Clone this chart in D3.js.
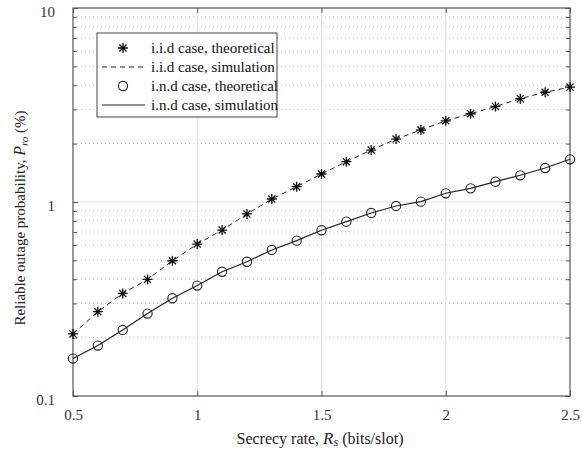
<!DOCTYPE html>
<html>
<head>
<meta charset="utf-8">
<script src="https://cdn.jsdelivr.net/npm/d3@7"></script>
<style>
  html, body { margin: 0; padding: 0; background: #fff; }
  svg text { font-family: "Liberation Serif", "Times New Roman", "DejaVu Serif", serif; }
</style>
</head>
<body>
<svg id="chart" width="582" height="452"></svg>
<script>
// Secrecy rate values (bits/slot)
const rates = [0.5, 0.6, 0.7, 0.8, 0.9, 1.0, 1.1, 1.2, 1.3, 1.4, 1.5,
               1.6, 1.7, 1.8, 1.9, 2.0, 2.1, 2.2, 2.3, 2.4, 2.5];

// Reliable outage probability (%) — i.i.d case
const iidTheory = [0.209, 0.272, 0.338, 0.399, 0.498, 0.607, 0.717, 0.868, 1.036, 1.199, 1.394,
                   1.614, 1.853, 2.11, 2.35, 2.62, 2.85, 3.11, 3.41, 3.68, 3.91];
const iidSim    = [0.209, 0.272, 0.338, 0.399, 0.498, 0.607, 0.717, 0.868, 1.036, 1.199, 1.394,
                   1.614, 1.853, 2.11, 2.35, 2.62, 2.85, 3.11, 3.41, 3.68, 3.91];

// Reliable outage probability (%) — i.n.d case
const indTheory = [0.156, 0.182, 0.219, 0.266, 0.319, 0.371, 0.437, 0.492, 0.566, 0.632, 0.715,
                   0.792, 0.878, 0.954, 1.004, 1.109, 1.176, 1.273, 1.373, 1.497, 1.66];
const indSim    = [0.156, 0.182, 0.219, 0.266, 0.319, 0.371, 0.437, 0.492, 0.566, 0.632, 0.715,
                   0.792, 0.878, 0.954, 1.004, 1.109, 1.176, 1.273, 1.373, 1.497, 1.66];

const xTicks = [0.5, 1, 1.5, 2, 2.5];
const xTickLabels = ["0.5", "1", "1.5", "2", "2.5"];
const yTicks = [0.1, 1, 10];
const yTickLabels = ["0.1", "1", "10"];
const legendLabels = ["i.i.d case, theoretical", "i.i.d case, simulation",
                      "i.n.d case, theoretical", "i.n.d case, simulation"];

const SERIF = "'Liberation Serif', 'Times New Roman', 'DejaVu Serif', serif";
const svg = d3.select("#chart");
const L = 73, R = 570, T = 8, B = 396;

const x = d3.scaleLinear().domain([0.5, 2.5]).range([L, R]);
const y = d3.scaleLog().domain([0.1, 10]).range([B, T]);

// minor decade values for the log axis
const minor = [];
for (const d of [0.1, 1]) for (let k = 2; k <= 9; k++) minor.push(d * k);

const grid = svg.append("g");
// dotted minor horizontal grid
grid.selectAll("line.minor").data(minor).enter().append("line")
  .attr("x1", L).attr("x2", R)
  .attr("y1", d => y(d)).attr("y2", d => y(d))
  .attr("stroke", "#bdbdbd").attr("stroke-width", 1)
  .attr("stroke-dasharray", "1,3");
// solid major grid
grid.selectAll("line.hmaj").data([1]).enter().append("line")
  .attr("x1", L).attr("x2", R)
  .attr("y1", d => y(d)).attr("y2", d => y(d))
  .attr("stroke", "#e0e0e0").attr("stroke-width", 1);
grid.selectAll("line.vmaj").data(xTicks.slice(1, -1)).enter().append("line")
  .attr("x1", d => x(d)).attr("x2", d => x(d))
  .attr("y1", T).attr("y2", B)
  .attr("stroke", "#e0e0e0").attr("stroke-width", 1);

// axes with inward ticks on all four sides
const axisColor = "#555";
const xFmt = d => xTickLabels[xTicks.indexOf(d)];
const isMajor = d => yTicks.some(t => Math.abs(t - d) < 1e-9);
const yFmt = d => { const i = yTicks.findIndex(t => Math.abs(t - d) < 1e-9); return i >= 0 ? yTickLabels[i] : ""; };
const yAllTicks = yTicks.concat(minor).sort((a, b) => a - b);

const xb = svg.append("g").attr("transform", `translate(0,${B})`)
  .call(d3.axisBottom(x).tickValues(xTicks).tickFormat(xFmt).tickSizeInner(-5).tickSizeOuter(0).tickPadding(13));
xb.attr("font-family", SERIF).attr("font-size", 15);
xb.select(".domain").remove();
xb.selectAll(".tick line").attr("stroke", axisColor);
xb.selectAll(".tick text").attr("fill", "#333");

const xt = svg.append("g").attr("transform", `translate(0,${T})`)
  .call(d3.axisTop(x).tickValues(xTicks).tickFormat("").tickSizeInner(-5).tickSizeOuter(0));
xt.select(".domain").remove();
xt.selectAll(".tick line").attr("stroke", axisColor);

const yl = svg.append("g").attr("transform", `translate(${L},0)`)
  .call(d3.axisLeft(y).tickValues(yAllTicks).tickFormat(yFmt).tickSizeOuter(0).tickPadding(12));
yl.attr("font-family", SERIF).attr("font-size", 15);
yl.select(".domain").remove();
yl.selectAll(".tick line").attr("x2", d => isMajor(d) ? 5 : 4).attr("stroke", axisColor);
yl.selectAll(".tick text").attr("fill", "#333").attr("dy", "0.55em");

const yr = svg.append("g").attr("transform", `translate(${R},0)`)
  .call(d3.axisRight(y).tickValues(yAllTicks).tickFormat("").tickSizeOuter(0));
yr.select(".domain").remove();
yr.selectAll(".tick line").attr("x2", d => isMajor(d) ? -5 : -4).attr("stroke", axisColor);

// plot frame
svg.append("rect").attr("x", L).attr("y", T).attr("width", R - L).attr("height", B - T)
  .attr("fill", "none").attr("stroke", axisColor).attr("stroke-width", 1.2);

// simulation curves
const line = d3.line().x((d, i) => x(rates[i])).y(d => y(d));
svg.append("path").datum(iidSim).attr("d", line)
  .attr("fill", "none").attr("stroke", "#222").attr("stroke-width", 1)
  .attr("stroke-dasharray", "5,4");
svg.append("path").datum(indSim).attr("d", line)
  .attr("fill", "none").attr("stroke", "#222").attr("stroke-width", 1.2);

// asterisk marker path (8 arms)
function starPath(cx, cy, r) {
  const a = r * Math.SQRT1_2;
  return `M${cx - r},${cy}L${cx + r},${cy}M${cx},${cy - r}L${cx},${cy + r}` +
         `M${cx - a},${cy - a}L${cx + a},${cy + a}M${cx - a},${cy + a}L${cx + a},${cy - a}`;
}

svg.append("g").selectAll("path").data(iidTheory).enter().append("path")
  .attr("d", (d, i) => starPath(x(rates[i]), y(d), 5))
  .attr("stroke", "#111").attr("stroke-width", 1.3).attr("fill", "none");

svg.append("g").selectAll("circle").data(indTheory).enter().append("circle")
  .attr("cx", (d, i) => x(rates[i])).attr("cy", d => y(d)).attr("r", 4.6)
  .attr("fill", "none").attr("stroke", "#222").attr("stroke-width", 1.1);

// legend
const lg = svg.append("g");
lg.append("rect").attr("x", 97).attr("y", 33).attr("width", 180).attr("height", 84)
  .attr("fill", "#fff").attr("stroke", "#444").attr("stroke-width", 1);
const rowY = [48, 67, 86, 105];
lg.append("path").attr("d", starPath(123, rowY[0], 5)).attr("stroke", "#111").attr("stroke-width", 1.3);
lg.append("line").attr("x1", 102).attr("x2", 145).attr("y1", rowY[1]).attr("y2", rowY[1])
  .attr("stroke", "#222").attr("stroke-dasharray", "5,4");
lg.append("circle").attr("cx", 123).attr("cy", rowY[2]).attr("r", 4.6)
  .attr("fill", "none").attr("stroke", "#222").attr("stroke-width", 1.1);
lg.append("line").attr("x1", 102).attr("x2", 145).attr("y1", rowY[3]).attr("y2", rowY[3])
  .attr("stroke", "#222").attr("stroke-width", 1.2);
lg.selectAll("text").data(legendLabels).enter().append("text")
  .attr("x", 151).attr("y", (d, i) => rowY[i]).attr("dy", "0.35em")
  .attr("font-family", SERIF).attr("font-size", 15).attr("fill", "#111").text(d => d);

// axis titles
const xt2 = svg.append("text").attr("x", 320).attr("y", 444).attr("text-anchor", "middle")
  .attr("font-family", SERIF).attr("font-size", 16).attr("fill", "#222");
xt2.append("tspan").text("Secrecy rate,  ");
xt2.append("tspan").attr("font-style", "italic").attr("font-size", 17).text("R");
xt2.append("tspan").attr("font-style", "italic").attr("font-size", 12).attr("dy", 2).text("s");
xt2.append("tspan").attr("dy", -2).text(" (bits/slot)");

const yt2 = svg.append("text").attr("transform", "translate(25,218) rotate(-90)")
  .attr("text-anchor", "middle").attr("font-family", SERIF).attr("font-size", 15).attr("fill", "#222");
yt2.append("tspan").text("Reliable outage probability, ");
yt2.append("tspan").attr("font-style", "italic").attr("font-size", 16).text("P");
yt2.append("tspan").attr("font-style", "italic").attr("font-size", 11).attr("dy", 3).text("ro");
yt2.append("tspan").attr("dy", -3).text("  (%)");
</script>
</body>
</html>
